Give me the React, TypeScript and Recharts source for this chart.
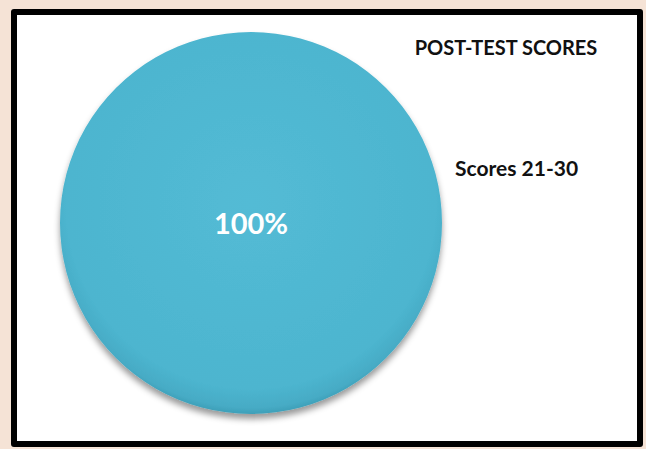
import React from 'react';
import { PieChart, Pie, Cell, Legend } from 'recharts';

const categories = ['Scores 21-30'];
const shares = [100];
const title = 'POST-TEST SCORES';

const data = categories.map((name, i) => ({ name, value: shares[i] }));

const FONT = 'Lato, "Open Sans", "Liberation Sans", sans-serif';

function renderLabel(props: any) {
    const { cx, cy, percent } = props;
    return (
        <text
            x={cx}
            y={cy - 1}
            fill="#ffffff"
            fontSize={29}
            fontWeight="bold"
            fontFamily={FONT}
            textAnchor="middle"
            dominantBaseline="central"
        >
            {`${Math.round(percent * 100)}%`}
        </text>
    );
}

function LegendContent({ payload }: any) {
    return (
        <div>
            {(payload || []).map((item: any) => (
                <div
                    key={item.value}
                    style={{ fontFamily: FONT, fontWeight: 'bold', fontSize: 21, color: '#111', lineHeight: '26px' }}
                >
                    {item.value}
                </div>
            ))}
        </div>
    );
}

export default function App() {
    return (
        <div
            style={{
                position: 'fixed',
                left: 0,
                top: 0,
                width: 646,
                height: 449,
                background: '#f5e3d6',
                overflow: 'hidden',
            }}
        >
            <div
                style={{
                    position: 'absolute',
                    left: 11,
                    top: 9,
                    width: 620,
                    height: 426,
                    border: '6px solid #000',
                    borderRadius: 3,
                    background: '#fff',
                }}
            >
                <PieChart width={620} height={426}>
                    <defs>
                        <radialGradient id="pieFill" cx="50%" cy="45%" r="55%">
                            <stop offset="0%" stopColor="#53bbd5" />
                            <stop offset="88%" stopColor="#4db5cf" />
                            <stop offset="97%" stopColor="#46abc5" />
                            <stop offset="100%" stopColor="#3e9fb8" />
                        </radialGradient>
                        <filter id="pieShadow" x="-10%" y="-10%" width="120%" height="125%">
                            <feDropShadow dx="0" dy="5" stdDeviation="3" floodColor="#000" floodOpacity="0.4" />
                        </filter>
                    </defs>
                    <text
                        x={489}
                        y={32}
                        textAnchor="middle"
                        dominantBaseline="central"
                        fontFamily={FONT}
                        fontWeight="bold"
                        fontSize={20}
                        fill="#111"
                    >
                        {title}
                    </text>
                    <Pie
                        data={data}
                        dataKey="value"
                        nameKey="name"
                        cx={229}
                        cy={203}
                        outerRadius={191}
                        startAngle={90}
                        endAngle={-270}
                        stroke="none"
                        label={renderLabel}
                        labelLine={false}
                        isAnimationActive={false}
                        style={{ filter: 'url(#pieShadow)' }}
                    >
                        {data.map((d) => (
                            <Cell key={d.name} fill="url(#pieFill)" />
                        ))}
                    </Pie>
                    <Legend
                        layout="vertical"
                        verticalAlign="top"
                        align="right"
                        content={<LegendContent />}
                        wrapperStyle={{ position: 'absolute', left: 438, top: 140, width: 170 }}
                    />
                </PieChart>
            </div>
        </div>
    );
}
